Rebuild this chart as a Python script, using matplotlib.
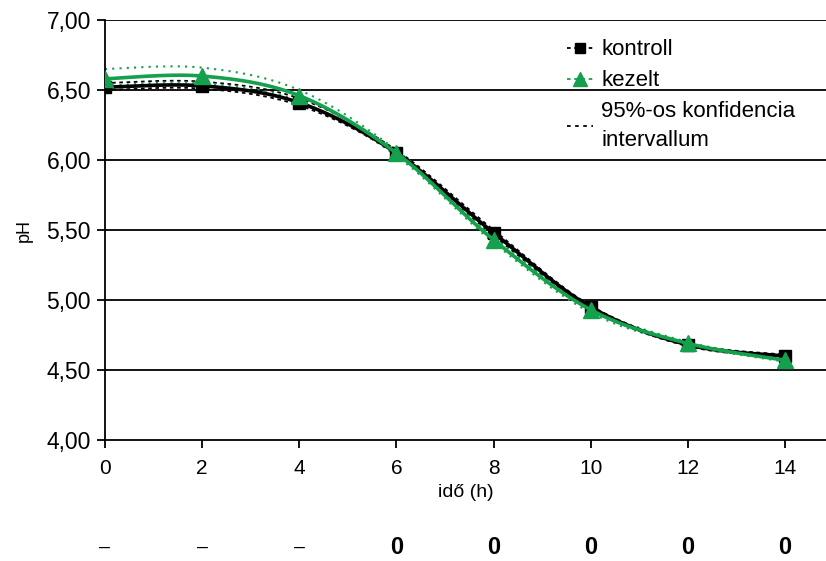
import numpy as np
import matplotlib
matplotlib.use("Agg")
import matplotlib.pyplot as plt
from matplotlib.lines import Line2D
from matplotlib.ticker import FuncFormatter
import matplotlib.transforms as mtransforms

plt.rcParams['font.family'] = ['Liberation Sans', 'DejaVu Sans']

# ---- data ----
time_h = [0, 2, 4, 6, 8, 10, 12, 14]
kontroll = [6.52, 6.53, 6.41, 6.05, 5.48, 4.95, 4.68, 4.60]
kezelt = [6.58, 6.60, 6.46, 6.05, 5.43, 4.93, 4.69, 4.57]
kontroll_ci_upper = [6.55, 6.56, 6.44, 6.07, 5.50, 4.96, 4.69, 4.61]
kontroll_ci_lower = [6.50, 6.51, 6.39, 6.04, 5.46, 4.94, 4.67, 4.59]
kezelt_ci_upper = [6.65, 6.66, 6.50, 6.07, 5.45, 4.95, 4.70, 4.58]
kezelt_ci_lower = [6.53, 6.55, 6.42, 6.03, 5.41, 4.91, 4.68, 4.56]
bottom_row = ['–', '–', '–', '0', '0', '0', '0', '0']
xticks = [0, 2, 4, 6, 8, 10, 12, 14]
yticks = [4.0, 4.5, 5.0, 5.5, 6.0, 6.5, 7.0]

GREEN = '#14A04C'


def smooth(x, y, n=40):
    """Excel-style smoothed line (Catmull-Rom Bezier)."""
    x = np.asarray(x, float)
    y = np.asarray(y, float)
    P = np.column_stack([x, y])
    out = []
    m = len(P)
    for i in range(m - 1):
        p0 = P[i - 1] if i > 0 else P[i]
        p1 = P[i]
        p2 = P[i + 1]
        p3 = P[i + 2] if i + 2 < m else P[i + 1]
        c1 = p1 + (p2 - p0) / 6.0
        c2 = p2 - (p3 - p1) / 6.0
        t = np.linspace(0, 1, n)[:, None]
        seg = ((1 - t) ** 3) * p1 + 3 * ((1 - t) ** 2) * t * c1 + 3 * (1 - t) * t ** 2 * c2 + t ** 3 * p2
        out.append(seg if i == 0 else seg[1:])
    S = np.vstack(out)
    return S[:, 0], S[:, 1]


fig = plt.figure(figsize=(8.26, 5.61), dpi=100)
ax = fig.add_axes([0.127, 0.2157, 0.873, 0.7486])

xmax = 14 + (826 - 785) / 48.57
ax.set_xlim(0, xmax)
ax.set_ylim(4.0, 7.0)

for yv in yticks[1:]:
    ax.axhline(yv, color='black', lw=1.3, zorder=1)

# confidence intervals
for arr in (kontroll_ci_upper, kontroll_ci_lower):
    sx, sy = smooth(time_h, arr)
    ax.plot(sx, sy, color='black', lw=1.3, ls=(0, (2, 2)), zorder=2)
for arr in (kezelt_ci_upper, kezelt_ci_lower):
    sx, sy = smooth(time_h, arr)
    ax.plot(sx, sy, color=GREEN, lw=1.5, ls=(0, (1, 2.5)), zorder=2)

sx, sy = smooth(time_h, kontroll)
ax.plot(sx, sy, color='black', lw=2.6, zorder=3)
ax.plot(time_h, kontroll, ls='none', marker='s', ms=9, color='black', zorder=4)

sx, sy = smooth(time_h, kezelt)
ax.plot(sx, sy, color=GREEN, lw=2.6, zorder=5)
ax.plot(time_h, kezelt, ls='none', marker='^', ms=11, color=GREEN, zorder=6)

# axes styling
for s in ('top', 'right'):
    ax.spines[s].set_visible(False)
ax.spines['left'].set_linewidth(1.3)
ax.spines['bottom'].set_linewidth(1.3)
ax.set_xticks(xticks)
ax.set_yticks(yticks)
ax.yaxis.set_major_formatter(FuncFormatter(lambda v, p: f"{v:.2f}".replace('.', ',')))
ax.tick_params(axis='both', direction='out', length=6, width=1.3, colors='black')
ax.tick_params(axis='y', labelsize=16.5, pad=4)
ax.tick_params(axis='x', labelsize=15, pad=8)

ax.set_ylabel('pH', fontsize=13, labelpad=10)
ax.set_xlabel('idő (h)', fontsize=14, labelpad=4)

trans = mtransforms.blended_transform_factory(ax.transData, fig.transFigure)
for xv, t in zip(time_h, bottom_row):
    bold = t == '0'
    ax.text(xv, 1 - 547 / 561, t, transform=trans, ha='center', va='center',
            fontsize=17 if bold else 14, fontweight='bold' if bold else 'normal')

handles = [
    Line2D([], [], color='black', ls=(0, (2, 2)), lw=1.3, marker='s', ms=7),
    Line2D([], [], color=GREEN, ls=(0, (2, 2)), lw=1.3, marker='^', ms=10),
    Line2D([], [], color='black', ls=(0, (2, 2.5)), lw=1.3),
]
labels = ['kontroll', 'kezelt', '95%-os konfidencia\nintervallum']
leg = ax.legend(handles, labels, loc='upper left', bbox_to_anchor=(0.628, 0.975),
                frameon=False, fontsize=16, handlelength=1.2, handletextpad=0.35,
                labelspacing=0.45, borderaxespad=0)
for txt in leg.get_texts():
    txt.set_linespacing(1.45)

fig.savefig('out.png', dpi=100)
